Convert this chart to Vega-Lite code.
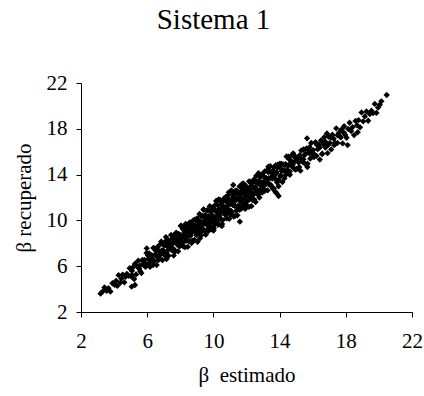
{
"$schema": "https://vega.github.io/schema/vega-lite/v6.json",
"autosize": "none",
"width": 331,
"height": 229,
"padding": {"left": 81, "top": 83, "right": 12, "bottom": 84},
"background": "white",
"title": {"text": "Sistema 1", "font": "Liberation Serif", "fontSize": 29, "fontWeight": "normal", "color": "black", "anchor": "middle", "frame": "group", "dx": -33, "offset": 14, "baseline": "alphabetic"},
"config": {"view": {"stroke": null}, "font": "Liberation Serif"},
"data": {"values": [
{"x":3.18,"y":3.6},{"x":3.3,"y":3.78},{"x":3.42,"y":4.14},{"x":3.55,"y":3.84},{"x":3.66,"y":4.08},{"x":3.78,"y":3.78},{"x":3.9,"y":4.51},
{"x":4.03,"y":4.38},{"x":4.12,"y":4.72},{"x":4.19,"y":4.28},{"x":4.27,"y":5.22},{"x":4.37,"y":4.55},{"x":4.44,"y":4.91},{"x":4.52,"y":5.27},{"x":4.62,"y":4.59},{"x":4.69,"y":5.08},{"x":4.77,"y":5.33},{"x":4.87,"y":5.16},{"x":4.94,"y":5.83},
{"x":5.02,"y":5.12},{"x":5.08,"y":5.59},{"x":5.15,"y":5.91},{"x":5.21,"y":4.88},{"x":5.27,"y":6.22},{"x":5.33,"y":5.28},{"x":5.4,"y":5.99},{"x":5.46,"y":6.48},{"x":5.52,"y":5.77},{"x":5.58,"y":6.06},{"x":5.65,"y":5.4},{"x":5.71,"y":6.54},{"x":5.77,"y":6.15},{"x":5.83,"y":6.54},{"x":5.9,"y":5.94},{"x":5.96,"y":7.15},
{"x":6.02,"y":6.13},{"x":6.07,"y":6.63},{"x":6.12,"y":7.12},{"x":6.17,"y":5.95},{"x":6.22,"y":6.65},{"x":6.27,"y":6.97},{"x":6.32,"y":6.6},{"x":6.37,"y":7.59},{"x":6.42,"y":6.45},{"x":6.47,"y":6.99},{"x":6.52,"y":7.34},{"x":6.57,"y":6.1},{"x":6.62,"y":7.67},{"x":6.67,"y":6.53},{"x":6.72,"y":7.34},{"x":6.77,"y":7.89},{"x":6.82,"y":7.03},{"x":6.87,"y":7.36},{"x":6.92,"y":6.53},{"x":6.97,"y":7.87},
{"x":7.02,"y":7.32},{"x":7.06,"y":7.82},{"x":7.1,"y":6.94},{"x":7.13,"y":8.54},{"x":7.17,"y":7.17},{"x":7.21,"y":7.74},{"x":7.25,"y":8.29},{"x":7.29,"y":6.91},{"x":7.33,"y":7.71},{"x":7.37,"y":8.06},{"x":7.4,"y":7.6},{"x":7.44,"y":8.73},{"x":7.48,"y":7.4},{"x":7.52,"y":8.0},{"x":7.56,"y":8.39},{"x":7.6,"y":6.93},{"x":7.63,"y":8.72},{"x":7.67,"y":7.39},{"x":7.71,"y":8.31},{"x":7.75,"y":8.93},{"x":7.79,"y":7.91},{"x":7.83,"y":8.27},{"x":7.87,"y":7.3},{"x":7.9,"y":8.82},{"x":7.94,"y":8.24},{"x":7.98,"y":8.74},
{"x":8.02,"y":7.81},{"x":8.05,"y":9.55},{"x":8.08,"y":8.05},{"x":8.12,"y":8.66},{"x":8.15,"y":9.25},{"x":8.18,"y":7.73},{"x":8.22,"y":8.6},{"x":8.25,"y":8.96},{"x":8.28,"y":8.46},{"x":8.32,"y":9.69},{"x":8.35,"y":8.22},{"x":8.38,"y":8.86},{"x":8.42,"y":9.29},{"x":8.45,"y":7.69},{"x":8.48,"y":9.64},{"x":8.52,"y":8.18},{"x":8.55,"y":9.17},{"x":8.58,"y":9.83},{"x":8.62,"y":8.72},{"x":8.65,"y":9.1},{"x":8.68,"y":8.02},{"x":8.72,"y":9.68},{"x":8.75,"y":9.04},{"x":8.78,"y":9.58},{"x":8.82,"y":9.4},{"x":8.85,"y":8.29},{"x":8.88,"y":10.07},{"x":8.92,"y":8.96},{"x":8.95,"y":9.37},{"x":8.98,"y":9.98},
{"x":9.01,"y":10.18},{"x":9.04,"y":8.13},{"x":9.07,"y":9.93},{"x":9.1,"y":9.54},{"x":9.13,"y":8.91},{"x":9.16,"y":10.56},{"x":9.19,"y":9.31},{"x":9.22,"y":9.91},{"x":9.25,"y":9.57},{"x":9.28,"y":8.71},{"x":9.31,"y":10.41},{"x":9.34,"y":9.85},{"x":9.37,"y":9.25},{"x":9.4,"y":10.95},{"x":9.43,"y":9.12},{"x":9.46,"y":10.24},{"x":9.49,"y":9.72},{"x":9.51,"y":10.47},{"x":9.54,"y":8.75},{"x":9.57,"y":9.97},{"x":9.6,"y":9.62},{"x":9.63,"y":10.9},{"x":9.66,"y":10.24},{"x":9.69,"y":9.23},{"x":9.72,"y":10.36},{"x":9.75,"y":9.38},{"x":9.78,"y":11.24},{"x":9.81,"y":10.0},{"x":9.84,"y":10.76},{"x":9.87,"y":9.21},{"x":9.9,"y":10.37},{"x":9.93,"y":11.14},{"x":9.96,"y":9.92},{"x":9.99,"y":10.99},
{"x":10.01,"y":9.12},{"x":10.04,"y":10.97},{"x":10.07,"y":10.25},{"x":10.1,"y":10.85},{"x":10.13,"y":9.74},{"x":10.16,"y":11.7},{"x":10.19,"y":10.0},{"x":10.22,"y":10.68},{"x":10.25,"y":11.33},{"x":10.28,"y":9.62},{"x":10.31,"y":10.58},{"x":10.34,"y":10.99},{"x":10.37,"y":10.43},{"x":10.4,"y":11.79},{"x":10.43,"y":10.14},{"x":10.46,"y":10.85},{"x":10.49,"y":11.32},{"x":10.51,"y":9.5},{"x":10.54,"y":11.69},{"x":10.57,"y":10.03},{"x":10.6,"y":11.14},{"x":10.63,"y":11.89},{"x":10.66,"y":10.62},{"x":10.69,"y":11.04},{"x":10.72,"y":10.48},{"x":10.75,"y":12.06},{"x":10.78,"y":11.08},{"x":10.81,"y":10.19},{"x":10.84,"y":11.56},{"x":10.87,"y":11.91},{"x":10.9,"y":10.92},{"x":10.93,"y":12.45},{"x":10.96,"y":10.14},{"x":10.99,"y":11.48},
{"x":11.02,"y":11.48},{"x":11.05,"y":10.86},{"x":11.08,"y":12.62},{"x":11.11,"y":10.72},{"x":11.14,"y":11.89},{"x":11.17,"y":11.35},{"x":11.2,"y":12.13},{"x":11.23,"y":10.34},{"x":11.27,"y":11.62},{"x":11.3,"y":11.26},{"x":11.33,"y":12.59},{"x":11.36,"y":11.9},{"x":11.39,"y":10.85},{"x":11.42,"y":12.57},{"x":11.45,"y":10.44},{"x":11.48,"y":12.31},{"x":11.52,"y":11.91},{"x":11.55,"y":11.26},{"x":11.58,"y":12.97},{"x":11.61,"y":11.67},{"x":11.64,"y":12.29},{"x":11.67,"y":11.94},{"x":11.7,"y":11.04},{"x":11.73,"y":12.81},{"x":11.77,"y":12.54},{"x":11.8,"y":11.29},{"x":11.83,"y":13.21},{"x":11.86,"y":11.96},{"x":11.89,"y":12.84},{"x":11.92,"y":11.0},{"x":11.95,"y":12.52},{"x":11.98,"y":11.71},
{"x":12.02,"y":11.3},{"x":12.05,"y":12.22},{"x":12.09,"y":12.63},{"x":12.12,"y":12.09},{"x":12.16,"y":13.41},{"x":12.2,"y":11.83},{"x":12.23,"y":12.52},{"x":12.27,"y":12.98},{"x":12.3,"y":11.24},{"x":12.34,"y":13.36},{"x":12.38,"y":11.77},{"x":12.41,"y":12.84},{"x":12.45,"y":13.57},{"x":12.48,"y":12.35},{"x":12.52,"y":12.77},{"x":12.55,"y":11.61},{"x":12.59,"y":13.4},{"x":12.63,"y":12.71},{"x":12.66,"y":13.29},{"x":12.7,"y":12.24},{"x":12.73,"y":14.13},{"x":12.77,"y":12.5},{"x":12.8,"y":13.16},{"x":12.84,"y":13.79},{"x":12.88,"y":12.69},{"x":12.91,"y":13.99},{"x":12.95,"y":12.43},{"x":12.98,"y":13.31},
{"x":13.02,"y":13.3},{"x":13.06,"y":12.73},{"x":13.1,"y":14.27},{"x":13.15,"y":13.13},{"x":13.19,"y":13.7},{"x":13.23,"y":13.41},{"x":13.27,"y":12.62},{"x":13.31,"y":14.21},{"x":13.35,"y":13.69},{"x":13.4,"y":13.17},{"x":13.44,"y":14.74},{"x":13.48,"y":13.07},{"x":13.52,"y":14.12},{"x":13.56,"y":13.65},{"x":13.6,"y":14.36},{"x":13.65,"y":12.79},{"x":13.69,"y":13.94},{"x":13.73,"y":13.63},{"x":13.77,"y":14.82},{"x":13.81,"y":14.23},{"x":13.85,"y":13.31},{"x":13.9,"y":14.86},{"x":13.94,"y":12.98},{"x":13.98,"y":14.65},
{"x":14.02,"y":14.95},{"x":14.07,"y":13.94},{"x":14.12,"y":14.31},{"x":14.17,"y":13.35},{"x":14.22,"y":14.89},{"x":14.27,"y":14.32},{"x":14.32,"y":14.83},{"x":14.37,"y":13.96},{"x":14.42,"y":15.58},{"x":14.47,"y":14.22},{"x":14.52,"y":14.8},{"x":14.57,"y":15.36},{"x":14.62,"y":13.99},{"x":14.67,"y":14.8},{"x":14.72,"y":15.16},{"x":14.77,"y":14.72},{"x":14.82,"y":15.86},{"x":14.87,"y":14.54},{"x":14.92,"y":15.15},{"x":14.97,"y":15.55},
{"x":15.03,"y":14.49},{"x":15.09,"y":15.44},{"x":15.15,"y":15.06},{"x":15.21,"y":15.7},{"x":15.26,"y":14.34},{"x":15.32,"y":15.36},{"x":15.38,"y":15.12},{"x":15.44,"y":16.19},{"x":15.5,"y":15.69},{"x":15.56,"y":14.91},{"x":15.62,"y":16.28},{"x":15.68,"y":14.66},{"x":15.74,"y":16.15},{"x":15.79,"y":15.86},{"x":15.85,"y":15.39},{"x":15.91,"y":16.76},{"x":15.97,"y":15.78},
{"x":16.03,"y":16.14},{"x":16.1,"y":15.77},{"x":16.17,"y":16.83},{"x":16.23,"y":15.64},{"x":16.3,"y":16.22},{"x":16.37,"y":16.61},{"x":16.43,"y":15.31},{"x":16.5,"y":16.98},{"x":16.57,"y":15.8},{"x":16.63,"y":16.66},{"x":16.7,"y":17.26},{"x":16.77,"y":16.37},{"x":16.83,"y":16.72},{"x":16.9,"y":15.87},{"x":16.97,"y":17.29},
{"x":17.04,"y":16.77},{"x":17.12,"y":16.2},{"x":17.19,"y":17.49},{"x":17.27,"y":17.13},{"x":17.35,"y":16.76},{"x":17.42,"y":18.04},{"x":17.5,"y":16.77},{"x":17.58,"y":17.64},{"x":17.65,"y":17.31},{"x":17.73,"y":17.93},{"x":17.81,"y":16.72},{"x":17.88,"y":17.67},{"x":17.96,"y":17.47},
{"x":18.05,"y":17.22},{"x":18.14,"y":17.99},{"x":18.23,"y":18.53},{"x":18.32,"y":17.81},{"x":18.41,"y":18.14},{"x":18.5,"y":17.45},{"x":18.59,"y":18.69},{"x":18.68,"y":18.3},{"x":18.77,"y":18.75},{"x":18.86,"y":18.13},{"x":18.95,"y":19.43},
{"x":19.05,"y":18.65},{"x":19.15,"y":19.08},{"x":19.25,"y":19.51},{"x":19.35,"y":18.7},{"x":19.45,"y":19.29},{"x":19.55,"y":19.58},{"x":19.65,"y":19.37},{"x":19.75,"y":20.17},{"x":19.85,"y":19.39},{"x":19.95,"y":19.85},
{"x":20.05,"y":20.1},{"x":20.15,"y":20.4},{"x":20.47,"y":20.95},
{"x":15.66,"y":17.17},{"x":13.94,"y":12.13},{"x":13.74,"y":12.5},{"x":18.11,"y":16.58},{"x":18.72,"y":17.7},{"x":16.86,"y":17.6},{"x":14.75,"y":15.7},{"x":5.97,"y":7.56},{"x":5.26,"y":4.36},{"x":11.2,"y":13.09},{"x":13.82,"y":12.37},{"x":11.6,"y":9.89},{"x":13.32,"y":14.69},{"x":5.06,"y":4.21},
{"x":5.08,"y":5.21},{"x":5.25,"y":6.1},{"x":5.42,"y":5.95},{"x":5.58,"y":5.55},{"x":5.75,"y":6.44},{"x":5.92,"y":6.21},
{"x":6.05,"y":6.93},{"x":6.15,"y":6.31},{"x":6.25,"y":6.75},{"x":6.35,"y":6.09},{"x":6.45,"y":7.55},{"x":6.55,"y":6.89},{"x":6.65,"y":7.31},{"x":6.75,"y":6.68},{"x":6.85,"y":8.16},{"x":6.95,"y":7.38},
{"x":7.03,"y":6.99},{"x":7.1,"y":8.16},{"x":7.17,"y":6.63},{"x":7.24,"y":7.97},{"x":7.31,"y":7.49},{"x":7.38,"y":7.89},{"x":7.45,"y":8.35},{"x":7.52,"y":7.59},{"x":7.59,"y":8.05},{"x":7.66,"y":7.23},{"x":7.73,"y":8.88},{"x":7.8,"y":8.07},{"x":7.87,"y":8.51},{"x":7.94,"y":7.73},
{"x":8.03,"y":9.51},{"x":8.09,"y":8.47},{"x":8.15,"y":8.07},{"x":8.22,"y":9.34},{"x":8.28,"y":7.66},{"x":8.34,"y":9.1},{"x":8.4,"y":8.56},{"x":8.47,"y":8.99},{"x":8.53,"y":9.47},{"x":8.59,"y":8.63},{"x":8.65,"y":9.11},{"x":8.72,"y":8.22},{"x":8.78,"y":10.0},{"x":8.84,"y":9.1},{"x":8.9,"y":9.56},{"x":8.97,"y":8.71},
{"x":9.03,"y":9.51},{"x":9.08,"y":9.17},{"x":9.14,"y":9.88},{"x":9.19,"y":8.44},{"x":9.25,"y":10.38},{"x":9.31,"y":9.14},{"x":9.36,"y":9.68},{"x":9.42,"y":10.94},{"x":9.47,"y":9.1},{"x":9.53,"y":10.17},{"x":9.58,"y":9.77},{"x":9.64,"y":10.87},{"x":9.69,"y":9.06},{"x":9.75,"y":10.17},{"x":9.81,"y":9.77},{"x":9.86,"y":10.8},{"x":9.92,"y":10.47},{"x":9.97,"y":9.47},
{"x":10.03,"y":9.32},{"x":10.08,"y":11.3},{"x":10.14,"y":10.28},{"x":10.19,"y":10.79},{"x":10.25,"y":9.81},{"x":10.31,"y":11.83},{"x":10.36,"y":10.63},{"x":10.42,"y":10.18},{"x":10.47,"y":11.58},{"x":10.53,"y":9.68},{"x":10.58,"y":11.29},{"x":10.64,"y":10.67},{"x":10.69,"y":11.13},{"x":10.75,"y":11.66},{"x":10.81,"y":10.7},{"x":10.86,"y":11.23},{"x":10.92,"y":12.23},{"x":10.97,"y":10.59},
{"x":11.03,"y":11.74},{"x":11.08,"y":10.5},{"x":11.14,"y":12.52},{"x":11.19,"y":11.35},{"x":11.25,"y":12.23},{"x":11.31,"y":10.39},{"x":11.36,"y":11.86},{"x":11.42,"y":12.56},{"x":11.47,"y":11.26},{"x":11.53,"y":11.86},{"x":11.58,"y":10.93},{"x":11.64,"y":12.48},{"x":11.69,"y":11.65},{"x":11.75,"y":13.2},{"x":11.81,"y":11.43},{"x":11.86,"y":12.43},{"x":11.92,"y":12.15},{"x":11.97,"y":13.01},
{"x":12.03,"y":11.64},{"x":12.09,"y":12.75},{"x":12.15,"y":11.18},{"x":12.22,"y":13.33},{"x":12.28,"y":12.48},{"x":12.34,"y":12.15},{"x":12.4,"y":13.32},{"x":12.47,"y":11.82},{"x":12.53,"y":12.93},{"x":12.59,"y":13.89},{"x":12.65,"y":12.59},{"x":12.72,"y":13.44},{"x":12.78,"y":12.0},{"x":12.84,"y":13.37},{"x":12.9,"y":12.97},{"x":12.97,"y":13.95},
{"x":13.03,"y":13.83},{"x":13.1,"y":12.58},{"x":13.17,"y":13.61},{"x":13.24,"y":13.26},{"x":13.31,"y":14.47},{"x":13.38,"y":13.1},{"x":13.45,"y":13.71},{"x":13.52,"y":14.14},{"x":13.59,"y":12.77},{"x":13.66,"y":14.64},{"x":13.73,"y":13.63},{"x":13.8,"y":14.12},{"x":13.87,"y":14.61},{"x":13.94,"y":13.54},
{"x":14.04,"y":13.86},{"x":14.12,"y":14.93},{"x":14.2,"y":14.41},{"x":14.29,"y":13.67},{"x":14.37,"y":14.91},{"x":14.45,"y":14.43},{"x":14.54,"y":15.57},{"x":14.62,"y":14.27},{"x":14.7,"y":15.07},{"x":14.79,"y":14.88},{"x":14.87,"y":15.57},{"x":14.95,"y":14.44},
{"x":15.06,"y":15.48},{"x":15.19,"y":14.66},{"x":15.31,"y":16.1},{"x":15.44,"y":15.33},{"x":15.56,"y":15.82},{"x":15.69,"y":14.95},{"x":15.81,"y":16.39},{"x":15.94,"y":15.94},
{"x":16.08,"y":15.53},{"x":16.25,"y":16.6},{"x":16.42,"y":16.37},{"x":16.58,"y":15.83},{"x":16.75,"y":16.9},{"x":16.92,"y":16.57},
{"x":17.1,"y":17.23},{"x":17.3,"y":16.57},{"x":17.5,"y":17.44},{"x":17.7,"y":17.26},{"x":17.9,"y":18.22}
]},
"mark": {"type": "point", "shape": "diamond", "filled": true, "size": 40, "color": "black", "opacity": 1},
"encoding": {
"x": {"field": "x", "type": "quantitative", "scale": {"domain": [2, 22], "nice": false, "zero": false},
 "axis": {"title": "β\u00a0 estimado", "values": [2, 6, 10, 14, 18, 22], "grid": false, "domainColor": "black", "tickColor": "black", "tickSize": 5, "labelFontSize": 21, "labelFont": "Liberation Serif", "labelColor": "black", "labelPadding": 13, "titleFont": "Liberation Serif", "titleFontSize": 21, "titleFontWeight": "normal", "titleColor": "black", "titlePadding": 13, "labelFlush": false, "labelOverlap": false}},
"y": {"field": "y", "type": "quantitative", "scale": {"domain": [2, 22], "nice": false, "zero": false},
 "axis": {"title": "β recuperado", "values": [2, 6, 10, 14, 18, 22], "grid": false, "domainColor": "black", "tickColor": "black", "tickSize": 5, "labelFontSize": 21, "labelFont": "Liberation Serif", "labelColor": "black", "labelPadding": 9, "titleFont": "Liberation Serif", "titleFontSize": 21, "titleFontWeight": "normal", "titleColor": "black", "titlePadding": 12, "labelFlush": false, "labelOverlap": false}}
}
}
